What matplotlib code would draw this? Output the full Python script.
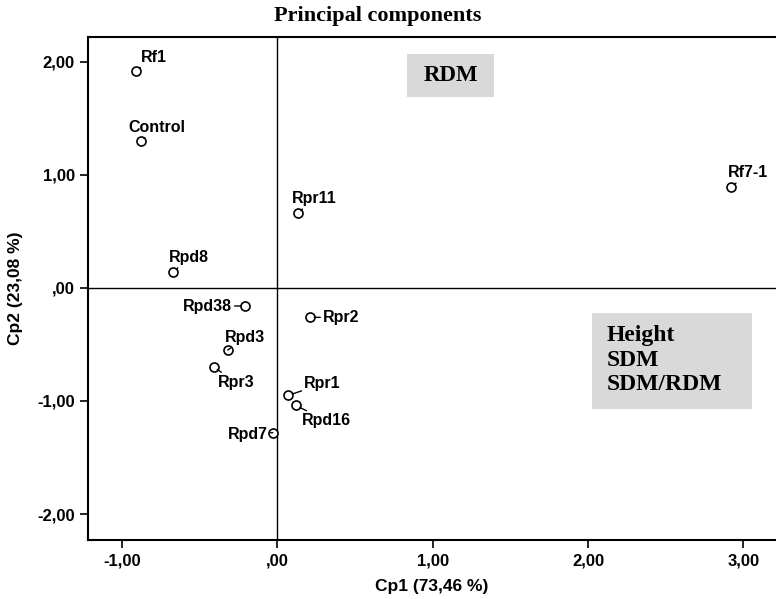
import matplotlib
matplotlib.use("Agg")
from matplotlib import pyplot as plt
from matplotlib.patches import Rectangle

# scores on the first two principal components
names = ["Rf1", "Control", "Rpd8", "Rpr11", "Rf7-1", "Rpd38", "Rpr2",
         "Rpd3", "Rpr3", "Rpr1", "Rpd16", "Rpd7"]
cp1 = [-0.91, -0.88, -0.67, 0.13, 2.92, -0.21, 0.21,
       -0.32, -0.41, 0.07, 0.12, -0.03]
cp2 = [1.92, 1.30, 0.14, 0.66, 0.89, -0.16, -0.26,
       -0.55, -0.70, -0.95, -1.04, -1.28]

xticks = [-1, 0, 1, 2, 3]
xticklabels = ["-1,00", ",00", "1,00", "2,00", "3,00"]
yticks = [-2, -1, 0, 1, 2]
yticklabels = ["-2,00", "-1,00", ",00", "1,00", "2,00"]

# label placement (offset in pixels, ha, va)
lab_pos = {
    "Rf1": ((5, 9), "left", "baseline"),
    "Control": ((-12, 9), "left", "baseline"),
    "Rpd8": ((-5, 10), "left", "baseline"),
    "Rpr11": ((-6, 10), "left", "baseline"),
    "Rf7-1": ((-3, 10), "left", "baseline"),
    "Rpd38": ((-13, 0), "right", "center"),
    "Rpr2": ((13, 0), "left", "center"),
    "Rpd3": ((-3, 8), "left", "baseline"),
    "Rpr3": ((4, -8), "left", "top"),
    "Rpr1": ((16, 7), "left", "baseline"),
    "Rpd16": ((6, -8), "left", "top"),
    "Rpd7": ((-5, -2), "right", "center"),
}

fig = plt.figure(figsize=(7.76, 5.99), dpi=100)
ax = fig.add_axes([88/776, 59/599, 688/776, 503/599])

ax.axvline(0, color="black", lw=1)
ax.axhline(0, color="black", lw=1)

ax.plot(cp1, cp2, "o", mfc="white", mec="black", mew=1.2, ms=6.5, zorder=3)

for n, x, y in zip(names, cp1, cp2):
    off, ha, va = lab_pos[n]
    ax.annotate(n, (x, y), xytext=off, textcoords="offset pixels",
                ha=ha, va=va, fontsize=11.5, fontweight="bold",
                family="Liberation Sans",
                arrowprops=dict(arrowstyle="-", lw=1, color="black",
                                shrinkA=0, shrinkB=3))

ax.set_xlim(-1.22, 3.21)
ax.set_ylim(-2.23, 2.22)
ax.set_xticks(xticks)
ax.set_xticklabels(xticklabels)
ax.set_yticks(yticks)
ax.set_yticklabels(yticklabels)
for t in ax.get_xticklabels() + ax.get_yticklabels():
    t.set_fontweight("bold")
    t.set_fontsize(12)
    t.set_family("Liberation Sans")
ax.tick_params(direction="out", length=6, width=1.2, colors="black")

for s in ["left", "bottom", "top"]:
    ax.spines[s].set_linewidth(1.5)
ax.spines["right"].set_visible(False)

ax.set_xlabel("Cp1 (73,46 %)", fontsize=12.5, fontweight="bold",
              family="Liberation Sans", labelpad=8)
ax.set_ylabel("Cp2 (23,08 %)", fontsize=12.5, fontweight="bold",
              family="Liberation Sans", labelpad=10)

# shaded variable boxes
ax.add_patch(Rectangle((0.4637, 0.8807), 0.1265, 0.0855, transform=ax.transAxes,
                       fc="#d9d9d9", ec="none", zorder=1))
ax.text(0.5276, 0.9225, "RDM", transform=ax.transAxes, ha="center", va="center",
        fontsize=16.5, fontweight="bold", family="Liberation Serif")
ax.add_patch(Rectangle((0.7326, 0.2604), 0.2326, 0.1909, transform=ax.transAxes,
                       fc="#d9d9d9", ec="none", zorder=1))
ax.text(0.7544, 0.3578, "Height\nSDM\nSDM/RDM", transform=ax.transAxes,
        ha="left", va="center", fontsize=17, fontweight="bold",
        family="Liberation Serif", linespacing=1.2)

fig.text(378/776, 1 - 16/599, "Principal components", ha="center", va="center",
         fontsize=16, fontweight="bold", family="Liberation Serif")

fig.savefig("out.png", dpi=100)
